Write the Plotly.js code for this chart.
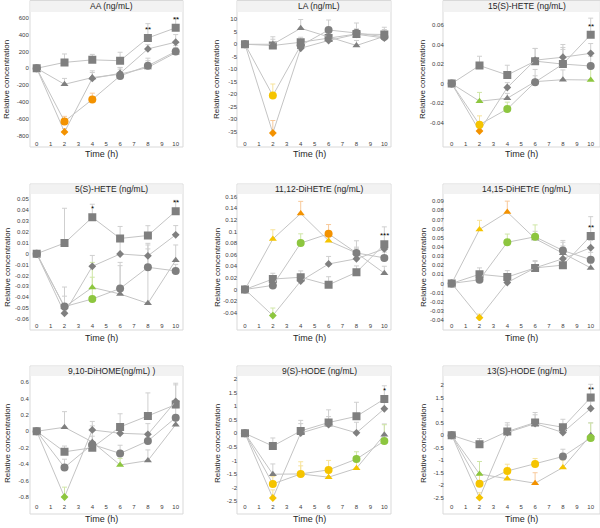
<!DOCTYPE html>
<html>
<head>
<meta charset="utf-8">
<script src="https://cdn.plot.ly/plotly-3.0.1.min.js"></script>
<style>
  body { margin: 0; background: #fff; }
  #chart { width: 600px; height: 528px; }
</style>
</head>
<body>
<div id="chart"></div>
<script>
// time points (h)
const times = [0, 2, 4, 6, 8, 10];

const panelTitles = ['AA (ng/mL)', 'LA (ng/mL)', '15(S)-HETE (ng/mL)',
  '5(S)-HETE (ng/mL)', '11,12-DiHETrE (ng/mL)', '14,15-DiHETrE (ng/mL)',
  '9,10-DiHOME(ng/mL) )', '9(S)-HODE (ng/mL)', '13(S)-HODE (ng/mL)'];

// series order in every panel: square, diamond, triangle, circle
// sig flags per point: - gray, o orange, y yellow, g green
const aaVals = [[0, 70, 100, 90, 360, 480], [0, -755, -120, -60, 230, 310], [0, -190, -110, -70, 10, 185], [0, -630, -370, -90, 30, 200]];
const aaErr = [[0, 100, 65, 100, 170, 120], [0, 40, 90, 70, 50, 90], [0, 70, 60, 60, 80, 60], [0, 60, 75, 100, 90, 70]];
const aaSig = ['------', '-o----', '------', '-oo---'];
const aaStars = ['', '', '', '', '**', '**'];
const aaTicks = [-800, -600, -400, -200, 0, 200, 400, 600];

const laVals = [[0, -0.5, 0.8, 2.5, 4.1, 3.9], [0, -35.5, -1.6, 1.5, 4, 2.5], [0, 0, 6.4, 3, -0.5, 3.2], [0, -20.5, -0.5, 5.7, 4.5, 3]];
const laErr = [[0, 3.5, 2, 2, 2, 2], [0, 5, 1.5, 2, 2, 2], [0, 2, 3.5, 2, 2, 2], [0, 4.6, 2, 4, 4, 3.8]];
const laSig = ['------', '-o----', '------', '-y----'];
const laStars = ['', '', '', '', '', ''];
const laTicks = [-35, -30, -25, -20, -15, -10, -5, 0, 5, 10];

const hete15Vals = [[0, 0.0185, 0.0088, 0.023, 0.020, 0.050], [0, -0.0485, -0.004, 0.024, 0.027, 0.031], [0, -0.018, -0.015, 0.002, 0.004, 0.0037], [0, -0.042, -0.026, 0.0015, 0.020, 0.018]];
const hete15Err = [[0, 0.0095, 0.01, 0.013, 0.02, 0.017], [0, 0.004, 0.005, 0.012, 0.01, 0.01], [0, 0.009, 0.005, 0.006, 0.01, 0.012], [0, 0.009, 0.007, 0.013, 0.015, 0.01]];
const hete15Sig = ['------', '-o----', '-g---g', '-yg---'];
const hete15Stars = ['', '', '', '', '', '**'];
const hete15Ticks = [-0.04, -0.02, 0, 0.02, 0.04, 0.06];

const hete5Vals = [[0, 0.0097, 0.0334, 0.014, 0.0167, 0.039], [0, -0.0547, -0.0116, -0.0003, -0.002, 0.0173], [0, -0.049, -0.031, -0.037, -0.0456, -0.006], [0, -0.0486, -0.0416, -0.032, -0.0125, -0.0158]];
const hete5Err = [[0, 0.032, 0.012, 0.011, 0.009, 0.01], [0, 0.005, 0.01, 0.015, 0.01, 0.0085], [0, 0.01, 0.023, 0.026, 0.05, 0.014], [0, 0.018, 0.02, 0.024, 0.022, 0.006]];
const hete5Sig = ['------', '------', '--g---', '--g---'];
const hete5Stars = ['', '', '*', '', '', '**'];
const hete5Ticks = [-0.06, -0.05, -0.04, -0.03, -0.02, -0.01, 0, 0.01, 0.02, 0.03, 0.04, 0.05];

const dihetre11Vals = [[0, 0.018, 0.021, 0.008, 0.0296, 0.078], [0, -0.045, 0.0145, 0.044, 0.053, 0.07], [0, 0.087, 0.131, 0.084, 0.063, 0.028], [0, 0.007, 0.080, 0.096, 0.063, 0.0545]];
const dihetre11Err = [[0, 0.01, 0.011, 0.014, 0.011, 0.03], [0, 0.013, 0.005, 0.013, 0.018, 0.01], [0, 0.016, 0.021, 0.01, 0.01, 0.012], [0, 0.008, 0.016, 0.016, 0.021, 0.01]];
const dihetre11Sig = ['------', '-g----', '-yoy--', '--go--'];
const dihetre11Stars = ['', '', '', '', '', '***'];
const dihetre11Ticks = [-0.04, -0.02, 0, 0.02, 0.04, 0.06, 0.08, 0.1, 0.12, 0.14, 0.16];

const dihetre14Vals = [[0, 0.010, 0.007, 0.017, 0.020, 0.052], [0, -0.0375, 0.001, 0.017, 0.027, 0.039], [0, 0.059, 0.078, 0.049, 0.033, 0.017], [0, 0.004, 0.045, 0.051, 0.036, 0.026]];
const dihetre14Err = [[0, 0.007, 0.007, 0.008, 0.025, 0.021], [0, 0.004, 0.004, 0.007, 0.01, 0.008], [0, 0.01, 0.012, 0.008, 0.008, 0.005], [0, 0.004, 0.009, 0.013, 0.011, 0.008]];
const dihetre14Sig = ['------', '-y----', '-yo---', '--gg--'];
const dihetre14Stars = ['', '', '', '', '', '**'];
const dihetre14Ticks = [-0.04, -0.03, -0.02, -0.01, 0, 0.01, 0.02, 0.03, 0.04, 0.05, 0.06, 0.07, 0.08, 0.09];

const dihomeVals = [[0, -0.25, -0.20, 0.053, 0.187, 0.325], [0, -0.80, 0.016, -0.024, -0.037, 0.365], [0, 0.049, -0.13, -0.41, -0.357, 0.081], [0, -0.44, -0.16, -0.27, -0.118, 0.166]];
const dihomeErr = [[0, 0.07, 0.05, 0.16, 0.28, 0.26], [0, 0.12, 0.05, 0.05, 0.13, 0.2], [0, 0.19, 0.25, 0.08, 0.13, 0.1], [0, 0.1, 0.1, 0.1, 0.1, 0.12]];
const dihomeSig = ['------', '-g----', '---g--', '------'];
const dihomeStars = ['', '', '', '', '', ''];
const dihomeTicks = [-0.8, -0.6, -0.4, -0.2, 0, 0.2, 0.4, 0.6];

const hode9Vals = [[0, -0.47, 0.09, 0.40, 0.63, 1.27], [0, -2.39, 0.01, 0.32, 0.02, 0.91], [0, -1.51, -1.50, -1.62, -1.29, -0.05], [0, -1.87, -1.50, -1.35, -0.95, -0.28]];
const hode9Err = [[0, 0.3, 0.39, 0.47, 0.52, 0.49], [0, 0.3, 0.35, 0.3, 0.39, 0.3], [0, 0.38, 0.3, 0.3, 0.3, 0.4], [0, 0.27, 0.45, 0.35, 0.27, 0.6]];
const hode9Sig = ['------', '-y----', '--yyy-', '-yyygg'];
const hode9Stars = ['', '', '', '', '', '*'];
const hode9Ticks = [-2.5, -2, -1.5, -1, -0.5, 0, 0.5, 1, 1.5, 2];

const hode13Vals = [[0, -0.36, 0.15, 0.51, 0.32, 1.51], [0, -2.50, 0.11, 0.47, 0.11, 1.07], [0, -1.55, -1.74, -1.92, -1.29, 0.0], [0, -1.94, -1.43, -1.15, -0.85, -0.11]];
const hode13Err = [[0, 0.23, 0.35, 0.4, 0.32, 0.53], [0, 0.2, 0.3, 0.35, 0.3, 0.3], [0, 0.5, 0.35, 0.42, 0.3, 0.5], [0, 0.35, 0.27, 0.22, 0.29, 0.6]];
const hode13Sig = ['------', '-y----', '-gyoy-', '-yyy-g'];
const hode13Stars = ['', '', '', '', '', '**'];
const hode13Ticks = [-2.5, -2, -1.5, -1, -0.5, 0, 0.5, 1, 1.5, 2];

const panels = [
  [aaVals, aaErr, aaSig, aaStars, aaTicks],
  [laVals, laErr, laSig, laStars, laTicks],
  [hete15Vals, hete15Err, hete15Sig, hete15Stars, hete15Ticks],
  [hete5Vals, hete5Err, hete5Sig, hete5Stars, hete5Ticks],
  [dihetre11Vals, dihetre11Err, dihetre11Sig, dihetre11Stars, dihetre11Ticks],
  [dihetre14Vals, dihetre14Err, dihetre14Sig, dihetre14Stars, dihetre14Ticks],
  [dihomeVals, dihomeErr, dihomeSig, dihomeStars, dihomeTicks],
  [hode9Vals, hode9Err, hode9Sig, hode9Stars, hode9Ticks],
  [hode13Vals, hode13Err, hode13Sig, hode13Stars, hode13Ticks]
];

// layout geometry (pixels)
const W = 600, H = 528;
const yRanges = [[-839, 668], [-37.9, 12.9], [-0.0567, 0.0733],
  [-0.0618, 0.0548], [-0.0544, 0.1647], [-0.0411, 0.0978],
  [-0.861, 0.673], [-2.537, 2.121], [-2.672, 2.372]];
const plotLeft = [29.75, 238, 444.75], plotRight = [182.65, 391.3, 597.65];
const plotTop = [12, 194, 376], plotBottom = [139, 321, 502];
const frameLeft = [30, 237, 443], frameRight = [183, 391, 600];
const frameTop = [0.5, 184, 366], frameBottom = [147, 330, 514];
const yTitleX = [7, 217, 423], yTitleY = [80, 268, 444];
const xTitleX = [101, 309, 521], xTitleY = [154, 338, 519];

const markerColors = { '-': '#7f7f7f', 'o': '#f39200', 'y': '#f5c400', 'g': '#8dc63f' };
const errColors = { '-': '#cfcfcf', 'o': '#f8c99a', 'y': '#f7e39a', 'g': '#cfe6a6' };
const symbols = ['square', 'diamond', 'triangle-up', 'circle'];
const sizes = [8, 6, 7, 8];

const px = v => v / W;
const py = v => 1 - v / H;

const traces = [];
const annotations = [];
const shapes = [];
const layout = {
  width: W, height: H,
  margin: { l: 0, r: 0, t: 0, b: 0 },
  paper_bgcolor: '#fff', plot_bgcolor: 'rgba(0,0,0,0)',
  showlegend: false,
  font: { family: 'Liberation Sans, Arial, sans-serif', color: '#404040' }
};

panels.forEach((p, i) => {
  const [vals, errs, sigs, stars, ticks] = p;
  const c = i % 3, r = Math.floor(i / 3);
  const n = i === 0 ? '' : String(i + 1);
  const xa = 'x' + n, ya = 'y' + n;

  layout['xaxis' + n] = {
    domain: [px(plotLeft[c]), px(plotRight[c])], anchor: ya,
    range: [-0.5, 10.5], tickvals: [0, 1, 2, 3, 4, 5, 6, 7, 8, 9, 10],
    showgrid: false, zeroline: false, showline: false, ticks: '',
    tickfont: { size: 6, color: '#404040' }, fixedrange: true
  };
  layout['yaxis' + n] = {
    domain: [py(plotBottom[r]), py(plotTop[r])], anchor: xa,
    range: yRanges[i], tickvals: ticks, ticktext: ticks.map(String),
    showgrid: false, zeroline: false, showline: false, ticks: '',
    tickfont: { size: 6, color: '#404040' }, fixedrange: true
  };

  // error bars first, grouped by colour, so markers sit on top
  Object.keys(errColors).forEach(k => {
    const ex = [], ey = [], ee = [];
    vals.forEach((s, si) => s.forEach((v, ti) => {
      if (sigs[si][ti] === k && ti > 0) { ex.push(times[ti]); ey.push(v); ee.push(errs[si][ti]); }
    }));
    if (!ex.length) return;
    traces.push({
      x: ex, y: ey, xaxis: xa, yaxis: ya, mode: 'markers',
      marker: { size: 1, opacity: 0 }, hoverinfo: 'skip',
      error_y: { type: 'data', symmetric: false, array: ee, arrayminus: ee.map(() => 0),
        color: errColors[k], thickness: 1, width: 2.5 }
    });
  });

  vals.forEach((s, si) => {
    traces.push({
      x: times, y: s, xaxis: xa, yaxis: ya, mode: 'lines+markers',
      line: { color: '#c4c4c4', width: 1 },
      marker: { symbol: symbols[si], size: sizes[si],
        color: s.map((v, ti) => markerColors[sigs[si][ti]]), line: { width: 0 } }
    });
  });

  stars.forEach((st, ti) => {
    if (!st) return;
    annotations.push({ x: times[ti], y: vals[0][ti], xref: xa, yref: ya, text: st,
      showarrow: false, yanchor: 'bottom', yshift: 2,
      font: { size: 8, color: '#000' } });
  });

  // frame, title bar
  shapes.push({ type: 'rect', xref: 'paper', yref: 'paper', layer: 'below',
    x0: px(frameLeft[c]), x1: px(frameRight[c]), y0: py(frameBottom[r]), y1: py(frameTop[r]),
    line: { color: '#d9d9d9', width: 1 }, fillcolor: 'rgba(0,0,0,0)' });
  shapes.push({ type: 'rect', xref: 'paper', yref: 'paper', layer: 'below',
    x0: px(frameLeft[c] + 0.5), x1: px(frameRight[c] - 0.5), y0: py(plotTop[r]), y1: py(frameTop[r] + 0.5),
    line: { width: 0 }, fillcolor: '#f2f2f2' });

  annotations.push({ x: px((frameLeft[c] + Math.min(frameRight[c] + 10, 611)) / 2), y: py((frameTop[r] + plotTop[r]) / 2),
    xref: 'paper', yref: 'paper', text: panelTitles[i], showarrow: false,
    xanchor: 'center', yanchor: 'middle', font: { size: 8.5, color: '#262626' } });
  annotations.push({ x: px(yTitleX[c]), y: py(yTitleY[r]), xref: 'paper', yref: 'paper',
    text: 'Relative concentration', textangle: -90, showarrow: false,
    xanchor: 'center', yanchor: 'middle', font: { size: 8, color: '#262626' } });
  annotations.push({ x: px(xTitleX[c]), y: py(xTitleY[r]), xref: 'paper', yref: 'paper',
    text: 'Time (h)', showarrow: false, xanchor: 'center', yanchor: 'middle',
    font: { size: 9, color: '#262626' } });
});

layout.annotations = annotations;
layout.shapes = shapes;

Plotly.newPlot('chart', traces, layout, { staticPlot: true });
</script>
</body>
</html>
